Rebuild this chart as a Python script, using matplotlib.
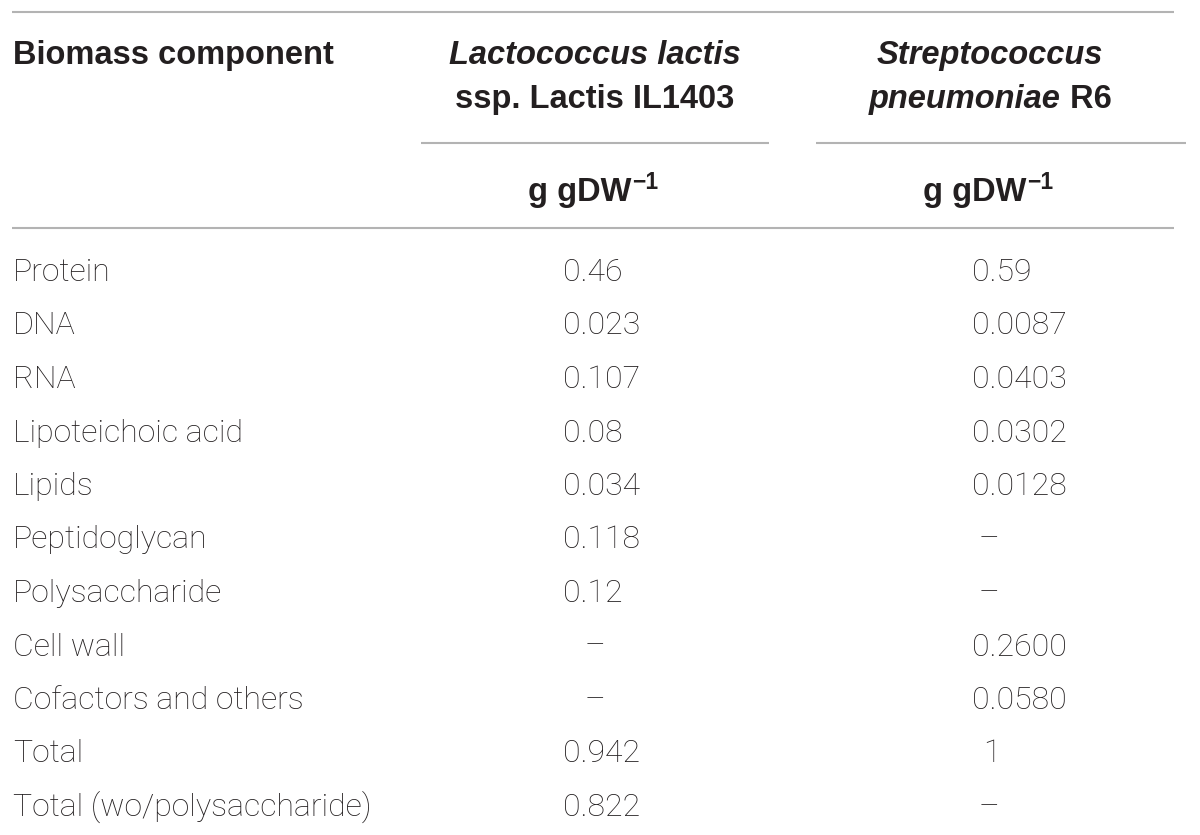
import matplotlib
matplotlib.use("Agg")
import matplotlib.pyplot as plt

# ---------------- data ----------------
header_label = "Biomass component"
species1 = [("Lactococcus lactis", "italic")]
species1_line2 = [("ssp. Lactis IL1403", "normal")]
species2 = [("Streptococcus", "italic")]
species2_line2 = [("pneumoniae", "italic"), (" R6", "normal")]
unit_main = "g gDW"
unit_sup = "\u22121"

components = ["Protein", "DNA", "RNA", "Lipoteichoic acid", "Lipids",
              "Peptidoglycan", "Polysaccharide", "Cell wall",
              "Cofactors and others", "Total", "Total (wo/polysaccharide)"]
lactis_vals = ["0.46", "0.023", "0.107", "0.08", "0.034", "0.118", "0.12",
               "\u2013", "\u2013", "0.942", "0.822"]
pneumo_vals = ["0.59", "0.0087", "0.0403", "0.0302", "0.0128", "\u2013",
               "\u2013", "0.2600", "0.0580", "1", "\u2013"]

# ---------------- layout / style ----------------
W, H = 1200, 835
BOLD_FONT = "Liberation Sans"
BODY_FONT = "Roboto"
FS_HEAD = 23.5
FS_BODY = 23
TXT = "#231f20"
LINE_C = "#b3b3b3"
LW = 1.5

fig = plt.figure(figsize=(W / 100, H / 100), dpi=100)
ax = fig.add_axes([0, 0, 1, 1])
ax.set_xlim(0, W)
ax.set_ylim(H, 0)
ax.axis("off")
renderer = fig.canvas.get_renderer()


def seg_text(xc, y, segments, weight="bold", family=BOLD_FONT):
    """Draw a list of (text, style[, size, dy]) segments centred at xc."""
    arts = []
    for seg in segments:
        txt, style = seg[0], seg[1]
        size = seg[2] if len(seg) > 2 else FS_HEAD
        dy = seg[3] if len(seg) > 3 else 0
        t = ax.text(0, y + dy, txt, fontsize=size, fontstyle=style,
                    fontweight=weight, family=family, color=TXT,
                    ha="left", va="baseline")
        arts.append(t)
    widths = [a.get_window_extent(renderer).width for a in arts]
    total = sum(widths)
    x = xc - total / 2
    for a, w in zip(arts, widths):
        a.set_x(x)
        x += w


# rules
ax.plot([12, 1174], [12, 12], color=LINE_C, lw=LW, solid_capstyle="butt")
ax.plot([421, 769], [143, 143], color=LINE_C, lw=LW, solid_capstyle="butt")
ax.plot([816, 1186], [143, 143], color=LINE_C, lw=LW, solid_capstyle="butt")
ax.plot([12, 1174], [228, 228], color=LINE_C, lw=LW, solid_capstyle="butt")

# header
ax.text(13, 64, header_label, fontsize=FS_HEAD, fontweight="bold",
        family=BOLD_FONT, color=TXT, ha="left", va="baseline")
col1_c, col2_c = 595, 990
seg_text(col1_c, 64, species1)
seg_text(col1_c, 108, species1_line2)
seg_text(col2_c, 64, species2)
seg_text(col2_c, 108, species2_line2)
for xc in (col1_c - 2, col2_c - 2):
    seg_text(xc, 201, [(unit_main, "normal"), (unit_sup, "normal", 16.5, -12)])

# body rows
row0, dy = 281, 53.5
num_x = [563, 972]
dash_c = [595, 989]
for i, (name, v1, v2) in enumerate(zip(components, lactis_vals, pneumo_vals)):
    y = row0 + i * dy
    ax.text(13, y, name, fontsize=FS_BODY, fontweight="light", family=BODY_FONT,
            color=TXT, ha="left", va="baseline")
    for j, v in enumerate((v1, v2)):
        if v == "\u2013":
            ax.text(dash_c[j], y, v, fontsize=FS_BODY, fontweight="light",
                    family=BODY_FONT, color=TXT, ha="center", va="baseline")
        elif "." not in v:
            ax.text(num_x[j] + 11, y, v, fontsize=FS_BODY, fontweight="light",
                    family=BODY_FONT, color=TXT, ha="left", va="baseline")
        else:
            ax.text(num_x[j], y, v, fontsize=FS_BODY, fontweight="light",
                    family=BODY_FONT, color=TXT, ha="left", va="baseline")

fig.savefig("out.png", dpi=100, facecolor="white")
